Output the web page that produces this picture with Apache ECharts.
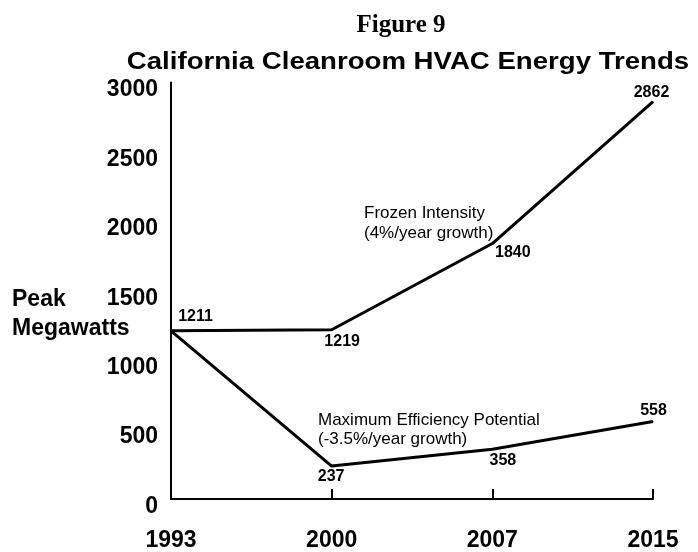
<!DOCTYPE html>
<html>
<head>
<meta charset="utf-8">
<script src="https://cdn.jsdelivr.net/npm/echarts@6/dist/echarts.min.js"></script>
<style>html,body{margin:0;padding:0;background:#fff;}#c{width:698px;height:552px;}</style>
</head>
<body>
<div id="c"></div>
<script>
var years = ['1993', '2000', '2007', '2015'];
var frozenIntensity = [1211, 1219, 1840, 2862];
var maxEfficiency = [1211, 237, 358, 558];
var yTicks = [0, 500, 1000, 1500, 2000, 2500, 3000];

var chart = echarts.init(document.getElementById('c'));

// label placement (offset of label centre from the point)
var frozenLabelPos = [[25, -14], [11, 12], [21, 10], [-1, -9]];
var frozenLabelShow = [true, true, true, true];
var effLabelPos = [[0, 0], [0, 11], [11, 12], [1, -10]];
var effLabelShow = [false, true, true, true];

function buildData(values, pos, show) {
  return values.map(function (v, i) {
    return {
      value: v,
      label: {
        show: show[i],
        position: [pos[i][0], pos[i][1]],
        align: 'center',
        verticalAlign: 'middle'
      }
    };
  });
}

var labelStyle = {
  fontFamily: 'Liberation Sans, Arial, sans-serif',
  fontWeight: 'bold',
  fontSize: 16,
  color: '#000',
  formatter: '{c}'
};

var option = {
  backgroundColor: '#fff',
  animation: false,
  title: [
    {
      text: 'Figure 9',
      left: 396, top: 8, textAlign: 'center',
      textStyle: { fontFamily: 'Liberation Serif, Times New Roman, serif', fontWeight: 'bold', fontSize: 25, color: '#000' }
    }
  ],
  grid: { left: 171, right: 45, top: 82.5, bottom: 51.5, containLabel: false },
  xAxis: {
    type: 'category',
    data: years,
    boundaryGap: false,
    axisLine: { lineStyle: { color: '#000', width: 2 } },
    axisTick: { show: true, inside: true, length: 10, lineStyle: { color: '#000', width: 2 } },
    axisLabel: { margin: 30, color: '#000', fontFamily: 'Liberation Sans, Arial, sans-serif', fontWeight: 'bold', fontSize: 23 },
    splitLine: { show: false }
  },
  yAxis: {
    type: 'value',
    min: yTicks[0], max: yTicks[yTicks.length - 1], interval: 500,
    axisLine: { show: true, lineStyle: { color: '#000', width: 2 } },
    axisTick: { show: false },
    axisLabel: {
      margin: 13, color: '#000', fontFamily: 'Liberation Sans, Arial, sans-serif', fontWeight: 'bold', fontSize: 23,
      verticalAlign: 'top', lineHeight: 15,
      formatter: function (v) { return String(v); }
    },
    splitLine: { show: false }
  },
  graphic: [
    {
      type: 'text', x: 408, y: 50, scaleX: 1.15, scaleY: 1,
      style: { text: 'California Cleanroom HVAC Energy Trends', fill: '#000', align: 'center', verticalAlign: 'top', font: 'bold 24px "Liberation Sans", Arial, sans-serif' }
    },
    {
      type: 'text', left: 12, top: 285,
      style: { text: 'Peak\nMegawatts', fill: '#000', font: 'bold 23px "Liberation Sans", Arial, sans-serif', lineHeight: 29 }
    },
    {
      type: 'text', left: 364, top: 203,
      style: { text: 'Frozen Intensity\n(4%/year growth)', fill: '#000', font: '17px "Liberation Sans", Arial, sans-serif', lineHeight: 20 }
    },
    {
      type: 'text', left: 318, top: 411,
      style: { text: 'Maximum Efficiency Potential\n(-3.5%/year growth)', fill: '#000', font: '17px "Liberation Sans", Arial, sans-serif', lineHeight: 19 }
    }
  ],
  series: [
    {
      name: 'Frozen Intensity',
      type: 'line',
      data: buildData(frozenIntensity, frozenLabelPos, frozenLabelShow),
      symbol: 'circle', symbolSize: 1, showSymbol: true,
      itemStyle: { color: '#000' },
      lineStyle: { color: '#000', width: 3 },
      label: labelStyle,
      clip: false
    },
    {
      name: 'Maximum Efficiency Potential',
      type: 'line',
      data: buildData(maxEfficiency, effLabelPos, effLabelShow),
      symbol: 'circle', symbolSize: 1, showSymbol: true,
      itemStyle: { color: '#000' },
      lineStyle: { color: '#000', width: 3 },
      label: labelStyle,
      clip: false
    }
  ]
};
chart.setOption(option);
</script>
</body>
</html>
